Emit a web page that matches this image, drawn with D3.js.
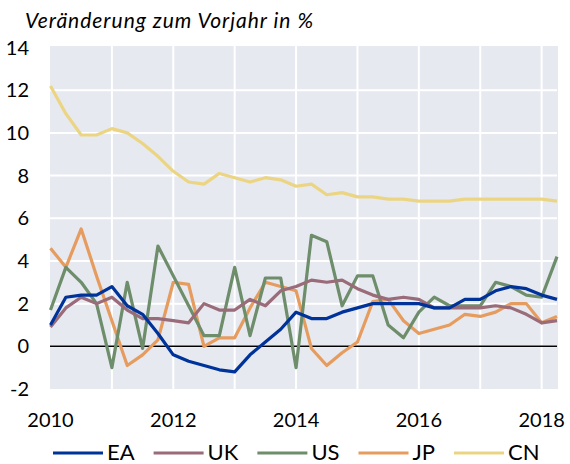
<!DOCTYPE html>
<html>
<head>
<meta charset="utf-8">
<script src="https://cdn.jsdelivr.net/npm/d3@7"></script>
<style>
  body { margin: 0; background: #fff; }
  svg { display: block; font-family: Lato, 'Open Sans', sans-serif; }
</style>
</head>
<body>
<svg id="chart" width="570" height="464"></svg>
<script>
// quarterly, 2010 Q1 .. 2018 Q2
const startYear = 2010
const yTicks = [-2, 0, 2, 4, 6, 8, 10, 12, 14]
const xTicks = [2010, 2012, 2014, 2016, 2018]
const names = ['EA', 'UK', 'US', 'JP', 'CN']
const colors = ['#00339a', '#9a6b78', '#6e8d6b', '#e69c5e', '#ecd582']

const ea = [1.0, 2.3, 2.4, 2.4, 2.8, 1.9, 1.5, 0.6, -0.4, -0.7, -0.9, -1.1, -1.2, -0.4, 0.2, 0.8,
            1.6, 1.3, 1.3, 1.6, 1.8, 2.0, 2.0, 2.0, 2.0, 1.8, 1.8, 2.2, 2.2, 2.6, 2.8, 2.7, 2.4, 2.2]
const uk = [0.9, 1.8, 2.3, 2.0, 2.3, 1.7, 1.3, 1.3, 1.2, 1.1, 2.0, 1.7, 1.7, 2.2, 1.9, 2.6,
            2.8, 3.1, 3.0, 3.1, 2.7, 2.4, 2.2, 2.3, 2.2, 1.8, 1.8, 1.8, 1.8, 1.9, 1.8, 1.5, 1.1, 1.2]
const us = [1.7, 3.7, 3.0, 2.0, -1.0, 3.0, -0.1, 4.7, 3.3, 1.9, 0.5, 0.5, 3.7, 0.5, 3.2, 3.2,
            -1.0, 5.2, 4.9, 1.9, 3.3, 3.3, 1.0, 0.4, 1.6, 2.3, 1.9, 1.9, 1.9, 3.0, 2.8, 2.4, 2.3, 4.2]
const jp = [4.6, 3.7, 5.5, 3.3, 1.2, -0.9, -0.4, 0.3, 3.0, 2.9, 0.0, 0.4, 0.4, 1.8, 3.0, 2.8,
            2.6, -0.1, -0.9, -0.3, 0.2, 2.1, 2.2, 1.2, 0.6, 0.8, 1.0, 1.5, 1.4, 1.6, 2.0, 2.0, 1.1, 1.4]
const cn = [12.2, 10.9, 9.9, 9.9, 10.2, 10.0, 9.5, 8.9, 8.2, 7.7, 7.6, 8.1, 7.9, 7.7, 7.9, 7.8,
            7.5, 7.6, 7.1, 7.2, 7.0, 7.0, 6.9, 6.9, 6.8, 6.8, 6.8, 6.9, 6.9, 6.9, 6.9, 6.9, 6.9, 6.8]

const series = [ea, uk, us, jp, cn]

const m = {top: 47, right: 13, bottom: 75, left: 50}
const W = 570, H = 464

const svg = d3.select('#chart')

const x = d3.scaleLinear()
  .domain([startYear, startYear + (ea.length - 1) / 4])
  .range([m.left + 0.5, W - m.right])
const y = d3.scaleLinear()
  .domain([-2, 14])
  .range([H - m.bottom, m.top + 0.5])

// plot background
svg.append('rect')
  .attr('x', m.left).attr('y', m.top - 1)
  .attr('width', W - m.right - m.left + 1)
  .attr('height', H - m.bottom - m.top + 1)
  .style('fill', '#e6e9f0')

// grid
svg.append('g')
  .selectAll('line')
  .data(d3.range(2011, 2019))
  .enter().append('line')
  .attr('x1', d => x(d)).attr('x2', d => x(d))
  .attr('y1', m.top - 1).attr('y2', H - m.bottom)
  .style('stroke', '#fff').style('stroke-width', 2)

svg.append('g')
  .selectAll('line')
  .data(yTicks.filter(d => d > -2 && d < 14))
  .enter().append('line')
  .attr('x1', m.left).attr('x2', W - m.right)
  .attr('y1', d => y(d)).attr('y2', d => y(d))
  .style('stroke', '#fff').style('stroke-width', 2)

// zero line
svg.append('line')
  .attr('x1', m.left).attr('x2', W - m.right)
  .attr('y1', y(0)).attr('y2', y(0))
  .style('stroke', '#000').style('stroke-width', 1.5)

// lines
const line = d3.line()
  .x((d, i) => x(startYear + i / 4))
  .y(d => y(d))

svg.append('g')
  .selectAll('path')
  .data(series.slice().reverse())
  .enter().append('path')
  .attr('d', line)
  .style('fill', 'none')
  .style('stroke', (d, i) => colors[series.length - 1 - i])
  .style('stroke-width', 3.2)
  .style('stroke-linejoin', 'round')

// y tick labels
svg.append('g')
  .selectAll('text')
  .data(yTicks)
  .enter().append('text')
  .attr('x', 29)
  .attr('y', d => y(d) + 7)
  .attr('text-anchor', 'end')
  .style('font-size', '20px')
  .style('fill', '#000')
  .text(d => d)

// x tick labels
svg.append('g')
  .selectAll('text')
  .data(xTicks)
  .enter().append('text')
  .attr('x', d => x(d))
  .attr('y', 427)
  .attr('text-anchor', 'middle')
  .style('font-size', '20px')
  .style('fill', '#000')
  .text(d => d)

// title
svg.append('text')
  .attr('x', 25).attr('y', 28)
  .attr('textLength', 288)
  .attr('lengthAdjust', 'spacing')
  .style('font-size', '21px')
  .style('font-style', 'italic')
  .style('fill', '#000')
  .text('Veränderung zum Vorjahr in %')

// legend
let lx = 53
names.forEach(function(n, i) {
  const g = svg.append('g')
  g.append('line')
    .attr('x1', lx).attr('x2', lx + 50)
    .attr('y1', 453).attr('y2', 453)
    .style('stroke', colors[i]).style('stroke-width', 3.2)
  const t = g.append('text')
    .attr('x', lx + 54).attr('y', 460)
    .style('font-size', '22px')
    .style('fill', '#000')
    .text(n)
  lx += 54 + t.node().getComputedTextLength() + 19
})
</script>
</body>
</html>
